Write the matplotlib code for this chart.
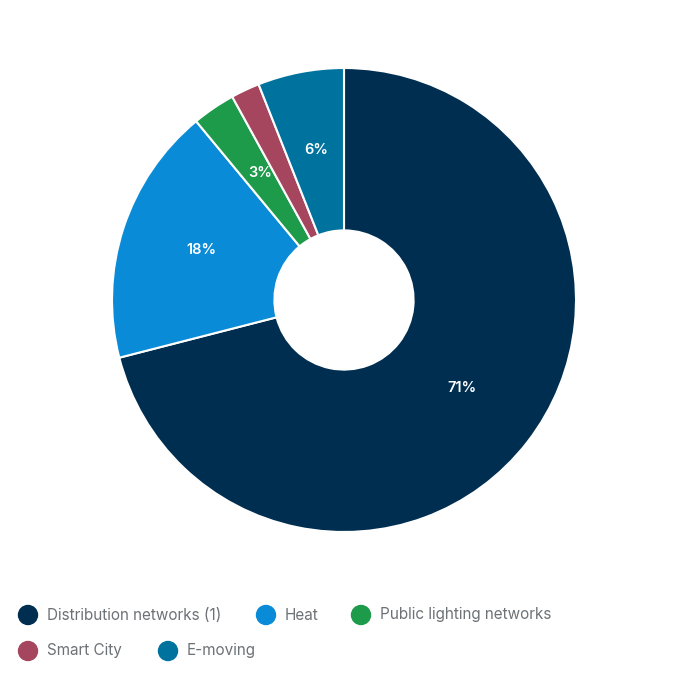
import matplotlib.pyplot as plt
from matplotlib.patches import Circle
import numpy as np

plt.rcParams['font.family'] = ['Inter', 'DejaVu Sans']

labels = ['Distribution networks (1)', 'Heat', 'Public lighting networks', 'Smart City', 'E-moving']
shares = [71, 18, 3, 2, 6]
shown = ['71%', '18%', '3%', '', '6%']
colors = ['#002e50', '#0a8bd8', '#1e9a4b', '#a6455e', '#00729e']

W = H = 686
fig = plt.figure(figsize=(W / 100, H / 100), dpi=100)

# donut: centre (344, 300) px, outer radius 232 px
cx, cy, r = 344, 300, 232
ax = fig.add_axes([(cx - r) / W, (H - cy - r) / H, 2 * r / W, 2 * r / H])
wedges, _ = ax.pie(shares, colors=colors, startangle=90, counterclock=False,
                   radius=1, wedgeprops=dict(width=0.70, edgecolor='white', linewidth=1.5))
ax.set_xlim(-1, 1)
ax.set_ylim(-1, 1)
ax.set_aspect('equal')
ax.axis('off')

ang = 90
for w, s, txt in zip(wedges, shares, shown):
    mid = ang - s * 3.6 / 2
    ang -= s * 3.6
    if txt:
        rad = np.deg2rad(mid)
        ax.text(0.645 * np.cos(rad), 0.645 * np.sin(rad) + 0.015, txt, color='white',
                fontsize=10.5, fontweight='semibold', ha='center', va='center')

# legend, flowing left to right like the original
rows = [(615, [(28, 0), (266, 1), (361, 2)]), (651, [(28, 3), (168, 4)])]
for y, items in rows:
    for x, i in items:
        fig.patches.append(Circle((x / W, 1 - y / H), 9.5 / W, transform=fig.transFigure,
                                  color=colors[i]))
        fig.text((x + 19) / W, 1 - y / H, labels[i], color='#6d7277', fontsize=11,
                 ha='left', va='center')

fig.savefig('out.png', dpi=100, facecolor='white')
